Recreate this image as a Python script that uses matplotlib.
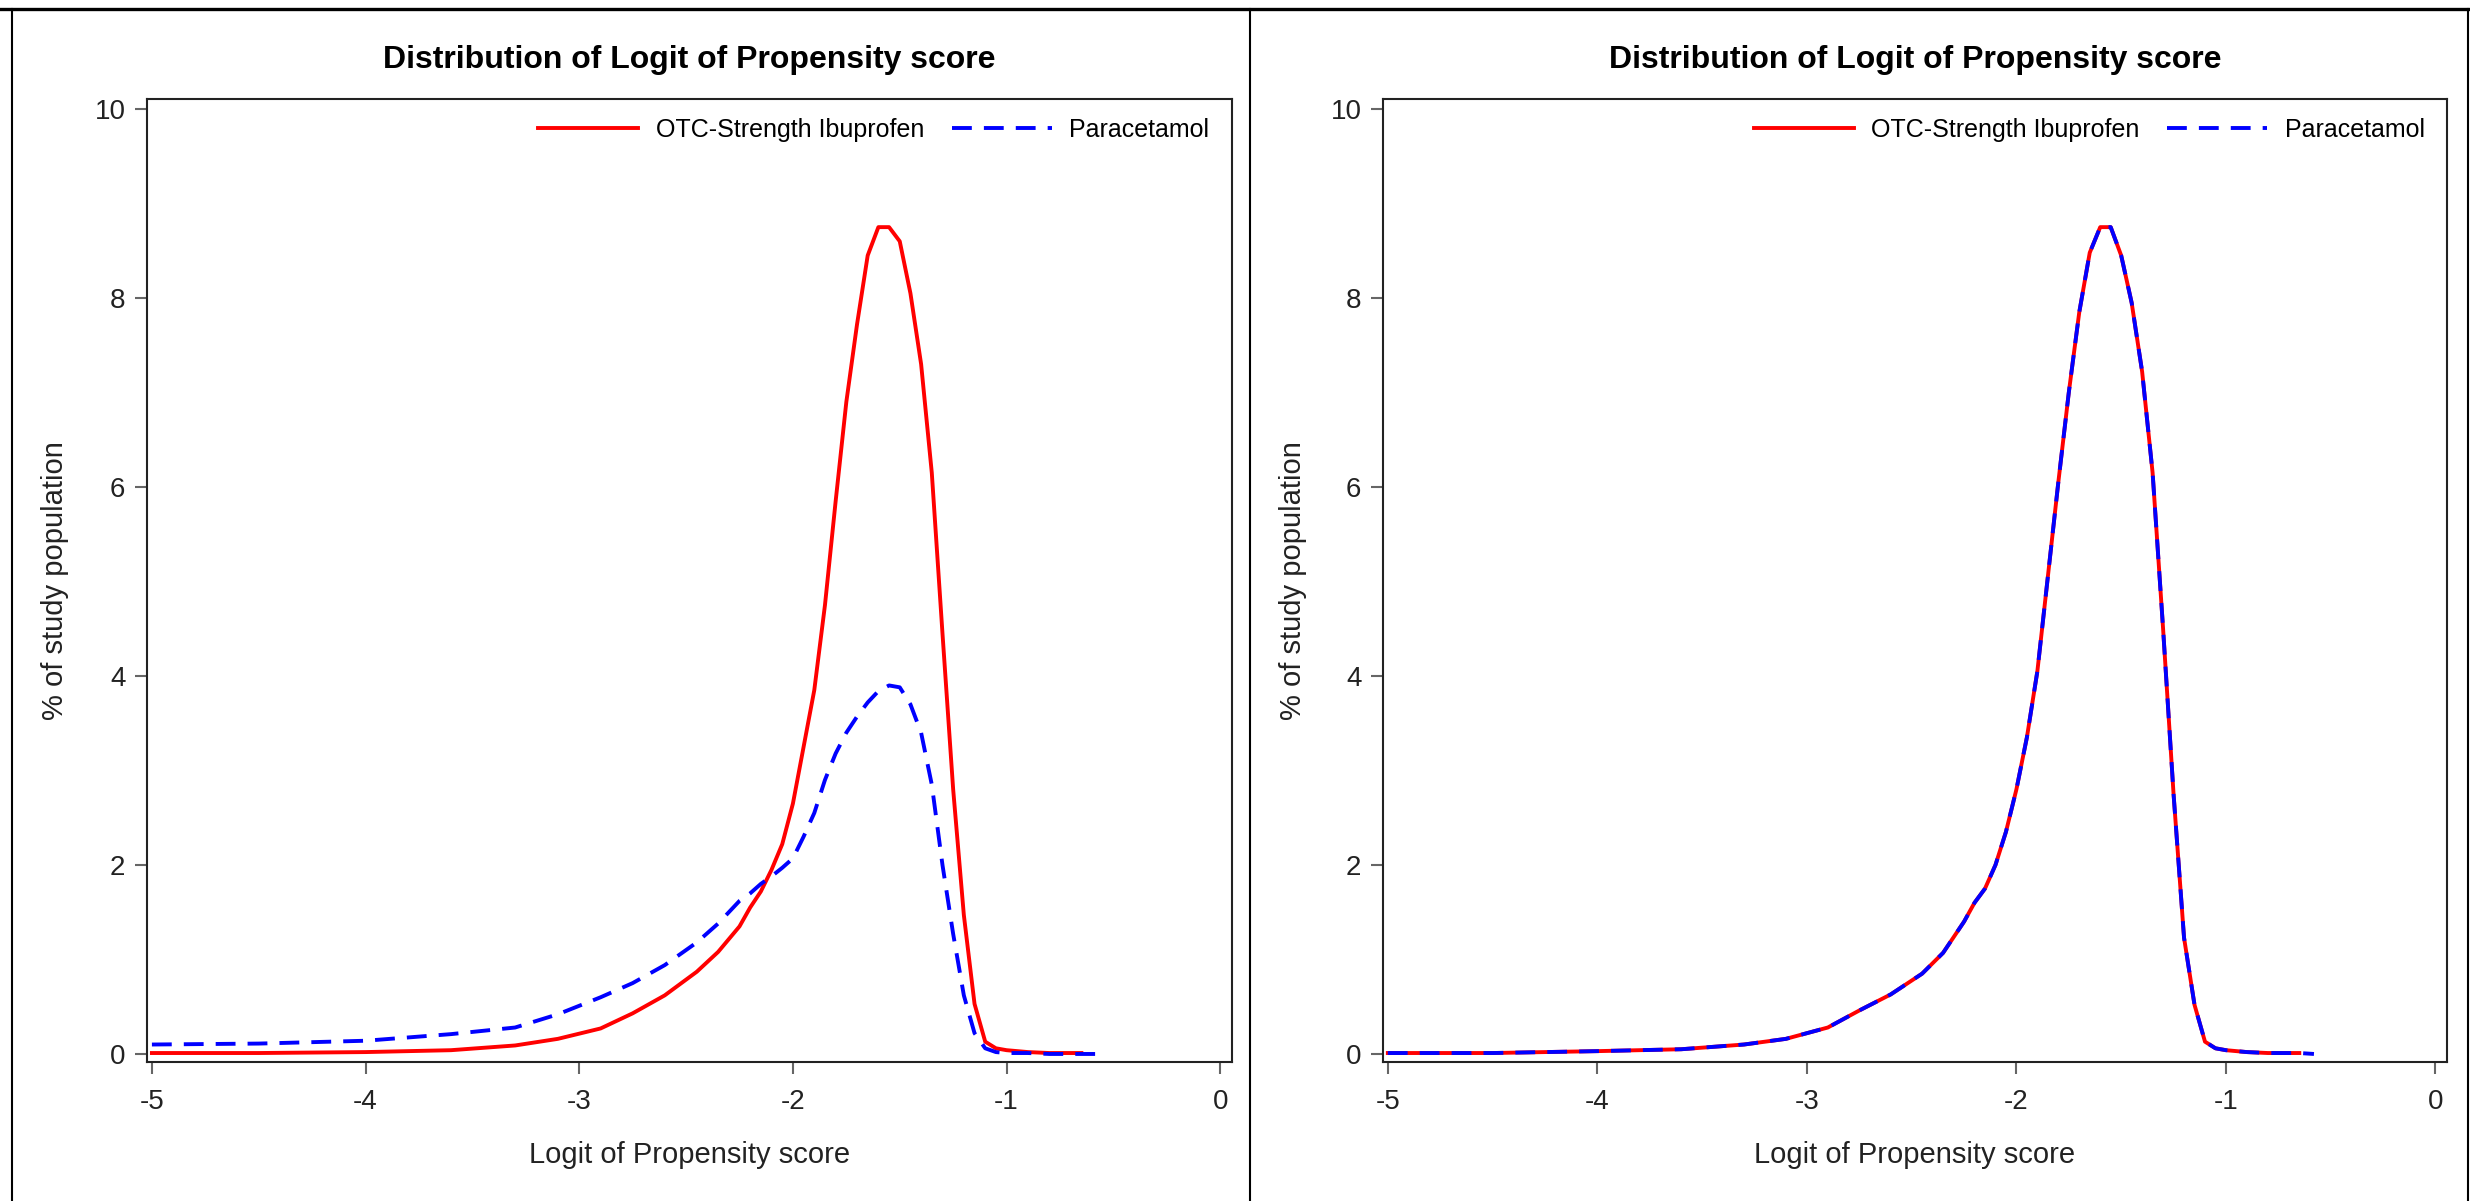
import matplotlib
matplotlib.use('Agg')
import matplotlib.pyplot as plt
from matplotlib.lines import Line2D

plt.rcParams['font.family'] = ['Liberation Sans Narrow', 'Liberation Sans', 'DejaVu Sans']
plt.rcParams['axes.unicode_minus'] = False

# Values
title = 'Distribution of Logit of Propensity score'
xlabel = 'Logit of Propensity score'
ylabel = '% of study population'
labels = ['OTC-Strength Ibuprofen', 'Paracetamol']
xticks = [-5, -4, -3, -2, -1, 0]
yticks = [0, 2, 4, 6, 8, 10]

logit = [-5.0, -4.5, -4.0, -3.6, -3.3, -3.1, -2.9, -2.75, -2.6, -2.45, -2.35,
         -2.25, -2.2, -2.15, -2.1, -2.05, -2.0, -1.95, -1.9, -1.85, -1.8, -1.75,
         -1.7, -1.65, -1.6, -1.55, -1.5, -1.45, -1.4, -1.35, -1.3, -1.25, -1.2,
         -1.15, -1.1, -1.05, -1.0, -0.9, -0.8, -0.65]
logit_para = logit + [-0.58]

# before matching
ibu_before = [0.01, 0.01, 0.02, 0.04, 0.09, 0.16, 0.27, 0.43, 0.62, 0.87, 1.08,
              1.35, 1.55, 1.72, 1.95, 2.22, 2.65, 3.25, 3.85, 4.75, 5.85, 6.90,
              7.72, 8.45, 8.75, 8.75, 8.60, 8.05, 7.30, 6.15, 4.45, 2.80, 1.47,
              0.53, 0.13, 0.06, 0.04, 0.02, 0.01, 0.01]
para_before = [0.10, 0.11, 0.14, 0.21, 0.28, 0.42, 0.60, 0.75, 0.94, 1.18, 1.38,
               1.62, 1.70, 1.80, 1.88, 1.97, 2.07, 2.30, 2.55, 2.90, 3.18, 3.40,
               3.57, 3.72, 3.84, 3.90, 3.88, 3.70, 3.40, 2.85, 2.00, 1.27, 0.62,
               0.22, 0.06, 0.02, 0.01, 0.01, 0.0, 0.0, 0.0]

# after matching (the two groups overlap)
ibu_after = [0.01, 0.01, 0.03, 0.05, 0.10, 0.16, 0.28, 0.46, 0.63, 0.85, 1.07,
             1.40, 1.60, 1.75, 2.00, 2.35, 2.80, 3.35, 4.05, 5.05, 6.05, 7.00,
             7.85, 8.48, 8.75, 8.75, 8.45, 7.95, 7.22, 6.15, 4.50, 2.75, 1.23,
             0.52, 0.13, 0.06, 0.04, 0.02, 0.01, 0.01]
para_after = ibu_after + [0.0]

W, H = 2470, 1201
fig = plt.figure(figsize=(W / 100, H / 100), dpi=100)

# panel frame lines (top, left, middle separator, right)
fig.add_artist(Line2D([0, 1], [1 - 9 / H, 1 - 9 / H], color='black', lw=2.4))
for px in [12, 1250, 2468]:
    fig.add_artist(Line2D([px / W, px / W], [0, 1 - 9 / H], color='black', lw=1.5))

def draw(ax, ibu, para):
    ax.plot(logit, ibu, color='#ff0000', lw=2.8, label=labels[0])
    ax.plot(logit_para, para, color='#0000ff', lw=2.8, dashes=(5.1, 3.1), label=labels[1])
    ax.set_xlim(-5.023, 0.055)
    ax.set_ylim(-0.085, 10.106)
    ax.set_xticks(xticks)
    ax.set_yticks(yticks)
    ax.tick_params(axis='both', direction='out', length=8.5, width=1.5, color='#666666',
                   labelsize=20, labelcolor='#222222')
    ax.tick_params(axis='x', pad=11)
    ax.tick_params(axis='y', pad=7)
    for s in ax.spines.values():
        s.set_linewidth(1.5)
        s.set_color('#222222')
    ax.set_title(title, fontsize=23, fontweight='bold', y=1.0405, va='center', pad=0)
    ax.set_xlabel(xlabel, fontsize=21, color='#222222')
    ax.set_ylabel(ylabel, fontsize=21, color='#222222')
    ax.xaxis.label.set_va('center')
    ax.yaxis.label.set_va('center')
    ax.xaxis.set_label_coords(0.5, -0.0966)
    ax.yaxis.set_label_coords(-0.085, 0.5)
    ax.legend(loc='center right', bbox_to_anchor=(0.979, 0.968), ncol=2, frameon=False,
              fontsize=18, handlelength=4, handletextpad=0.7, columnspacing=1.1,
              borderpad=0, borderaxespad=0)

ax1 = fig.add_axes([147 / W, 1 - 1062 / H, 1085 / W, 963 / H])
draw(ax1, ibu_before, para_before)

ax2 = fig.add_axes([1383 / W, 1 - 1062 / H, 1064 / W, 963 / H])
draw(ax2, ibu_after, para_after)

fig.savefig('out.png', dpi=100)
